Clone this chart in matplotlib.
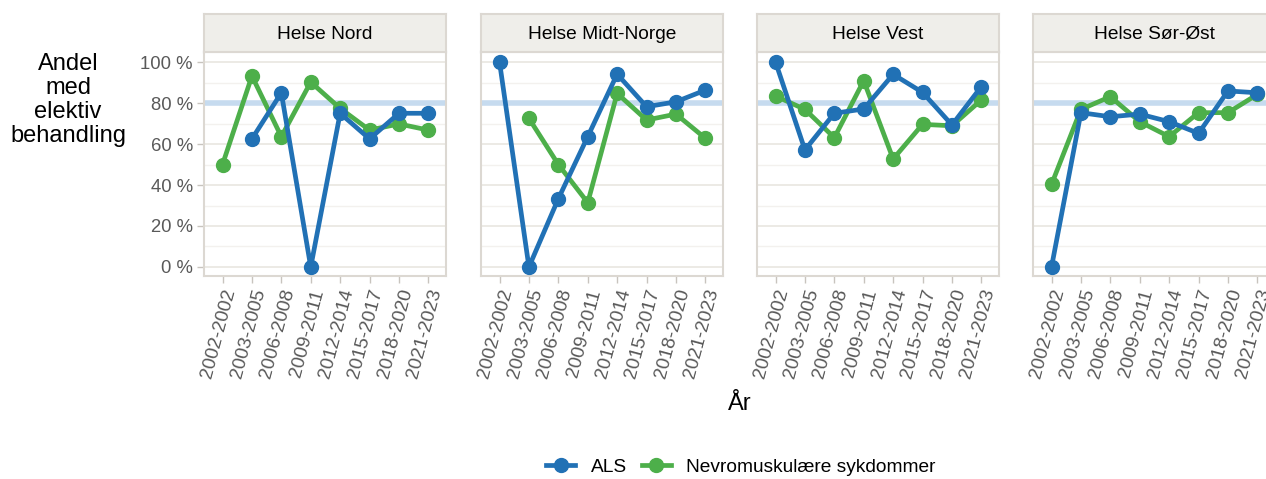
import numpy as np
import matplotlib
matplotlib.use("Agg")
import matplotlib.pyplot as plt
from matplotlib.lines import Line2D

plt.rcParams['font.family'] = ['Liberation Sans', 'DejaVu Sans']

periods = ["2002-2002", "2003-2005", "2006-2008", "2009-2011",
           "2012-2014", "2015-2017", "2018-2020", "2021-2023"]
regions = ["Helse Nord", "Helse Midt-Norge", "Helse Vest", "Helse Sør-Øst"]
series_names = ["ALS", "Nevromuskulære sykdommer"]

nan = np.nan
als_nord = [nan, 62.5, 85, 0, 75, 62.5, 75, 75]
als_midt = [100, 0, 33.3, 63.6, 94.1, 78.2, 80.6, 86.3]
als_vest = [100, 57.1, 75, 77.1, 94, 85.2, 69.3, 88]
als_sorost = [0, 75.3, 73.3, 74.6, 70.9, 65.2, 85.9, 85]

nmk_nord = [50, 93.2, 63.6, 90.2, 77.4, 66.8, 69.8, 66.8]
nmk_midt = [nan, 72.5, 50, 31.4, 84.7, 71.7, 74.6, 62.8]
nmk_vest = [83.4, 76.9, 63.1, 90.9, 52.7, 69.6, 68.9, 81.5]
nmk_sorost = [40.3, 76.9, 83.1, 70.9, 63.6, 75.3, 75.3, 84.2]

target = 80

als_all = [als_nord, als_midt, als_vest, als_sorost]
nmk_all = [nmk_nord, nmk_midt, nmk_vest, nmk_sorost]

c_als = "#2171b5"
c_nmk = "#4daf4a"
c_ref = "#c6dbef"
c_border = "#dcd8d2"
c_grid = "#ebe8e3"
c_grid_minor = "#f3f1ee"
c_strip = "#efeeea"
c_tick = "#595959"

W, H = 1266, 479
fig = plt.figure(figsize=(W / 100, H / 100), dpi=100)

panel_left = [204, 481, 757, 1033]
pw = 242
top_px, bot_px = 52, 276
strip_top = 14

x = np.arange(len(periods))
for i, reg in enumerate(regions):
    l = panel_left[i]
    ax = fig.add_axes([l / W, 1 - bot_px / H, pw / W, (bot_px - top_px) / H])
    ax.set_xlim(-0.63, 7.6)
    ax.set_ylim(-4.4, 104.9)
    for v in [10, 30, 50, 70, 90]:
        ax.axhline(v, color=c_grid_minor, lw=1.0, zorder=0)
    for v in [0, 20, 40, 60, 80, 100]:
        ax.axhline(v, color=c_grid, lw=1.3, zorder=0)
    ax.axhline(target, color=c_ref, lw=4, zorder=1)
    ax.plot(x, als_all[i], color=c_als, lw=3.4, marker='o', ms=10, zorder=3)
    ax.plot(x, nmk_all[i], color=c_nmk, lw=3.4, marker='o', ms=10, zorder=2)
    for s in ax.spines.values():
        s.set_color(c_border)
        s.set_linewidth(1.5)
    ax.set_xticks(x)
    ax.set_xticklabels(periods, rotation=75, ha='right', rotation_mode='anchor',
                       fontsize=13.8, color=c_tick)
    ax.set_yticks([0, 20, 40, 60, 80, 100])
    if i == 0:
        ax.set_yticklabels([f"{v} %" for v in [0, 20, 40, 60, 80, 100]],
                           fontsize=13.3, color=c_tick)
        ax.tick_params(axis='y', length=5, color='#c8c4be', width=1, pad=3)
    else:
        ax.set_yticklabels([])
        ax.tick_params(axis='y', length=0)
    ax.tick_params(axis='x', length=5, color='#c8c4be', width=1, pad=3)
    # strip
    sax = fig.add_axes([l / W, 1 - top_px / H, pw / W, (top_px - strip_top) / H])
    sax.set_xticks([])
    sax.set_yticks([])
    sax.set_facecolor(c_strip)
    for s in sax.spines.values():
        s.set_color(c_border)
        s.set_linewidth(1.5)
    sax.text(0.5, 0.47, reg, ha='center', va='center', fontsize=13.8, color='black',
             transform=sax.transAxes)

fig.text(68 / W, 1 - 100 / H, "Andel\nmed\nelektiv\nbehandling", ha='center',
         va='center', fontsize=17, color='black', linespacing=1.12)
fig.text(740 / W, 1 - 404 / H, "År", ha='center', va='center', fontsize=17,
         color='black')

handles = [Line2D([], [], color=c_als, lw=3.4, marker='o', ms=10),
           Line2D([], [], color=c_nmk, lw=3.4, marker='o', ms=10)]
fig.legend(handles, series_names, loc='center', bbox_to_anchor=(741 / W, 1 - 467 / H),
           ncol=2, frameon=False, fontsize=13.8, handlelength=1.5, columnspacing=0.8,
           handletextpad=0.8)

fig.savefig("out.png", dpi=100)
